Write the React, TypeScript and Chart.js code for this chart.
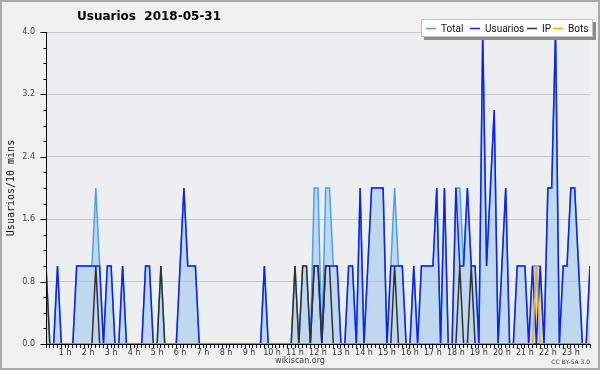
import React, { useEffect, useRef } from 'react';
import { Chart, registerables } from 'chart.js';

Chart.register(...registerables);

// 10-minute slots of the day (index 0 = 00:00 ... 143 = 23:50)
const slots: number[] = Array.from({ length: 144 }, (_, i) => i);

const hourLabels: string[] = [
  '1 h', '2 h', '3 h', '4 h', '5 h', '6 h', '7 h', '8 h', '9 h', '10 h', '11 h', '12 h',
  '13 h', '14 h', '15 h', '16 h', '17 h', '18 h', '19 h', '20 h', '21 h', '22 h', '23 h',
];

const total: number[] = [
  0, 1, 0, 0, 1, 0, 0, 0, 0, 1, 1, 1,
  1, 1, 2, 1, 0, 1, 1, 0, 0, 1, 0, 0,
  0, 0, 0, 1, 1, 0, 0, 1, 0, 0, 0, 0,
  1, 2, 1, 1, 1, 0, 0, 0, 0, 0, 0, 0,
  0, 0, 0, 0, 0, 0, 0, 0, 0, 0, 1, 0,
  0, 0, 0, 0, 0, 0, 1, 0, 1, 1, 0, 2,
  2, 0, 2, 2, 1, 1, 0, 0, 1, 1, 0, 2,
  0, 1, 2, 2, 2, 2, 0, 1, 2, 1, 1, 0,
  0, 1, 0, 1, 1, 1, 1, 2, 0, 2, 0, 0,
  2, 2, 1, 2, 1, 1, 0, 4, 1, 2, 3, 0,
  1, 2, 0, 0, 1, 1, 1, 0, 1, 1, 1, 0,
  2, 2, 4, 0, 1, 1, 2, 2, 1, 0, 0, 1,
];

const usuarios: number[] = [
  0, 0, 0, 0, 1, 0, 0, 0, 0, 1, 1, 1,
  1, 1, 1, 1, 0, 1, 1, 0, 0, 1, 0, 0,
  0, 0, 0, 1, 1, 0, 0, 0, 0, 0, 0, 0,
  1, 2, 1, 1, 1, 0, 0, 0, 0, 0, 0, 0,
  0, 0, 0, 0, 0, 0, 0, 0, 0, 0, 1, 0,
  0, 0, 0, 0, 0, 0, 0, 0, 0, 0, 0, 1,
  1, 0, 1, 1, 1, 1, 0, 0, 1, 1, 0, 2,
  0, 1, 2, 2, 2, 2, 0, 1, 1, 1, 1, 0,
  0, 1, 0, 1, 1, 1, 1, 2, 0, 2, 0, 0,
  2, 1, 1, 2, 1, 1, 0, 4, 1, 2, 3, 0,
  1, 2, 0, 0, 1, 1, 1, 0, 1, 0, 1, 0,
  2, 2, 4, 0, 1, 1, 2, 2, 1, 0, 0, 1,
];

const ip: number[] = [
  0, 1, 0, 0, 0, 0, 0, 0, 0, 0, 0, 0,
  0, 0, 1, 0, 0, 0, 0, 0, 0, 0, 0, 0,
  0, 0, 0, 0, 0, 0, 0, 1, 0, 0, 0, 0,
  0, 0, 0, 0, 0, 0, 0, 0, 0, 0, 0, 0,
  0, 0, 0, 0, 0, 0, 0, 0, 0, 0, 0, 0,
  0, 0, 0, 0, 0, 0, 1, 0, 1, 1, 0, 1,
  1, 0, 1, 1, 0, 0, 0, 0, 0, 0, 0, 0,
  0, 0, 0, 0, 0, 0, 0, 0, 1, 0, 0, 0,
  0, 0, 0, 0, 0, 0, 0, 0, 0, 0, 0, 0,
  0, 1, 0, 0, 1, 0, 0, 0, 0, 0, 0, 0,
  0, 0, 0, 0, 0, 0, 0, 0, 0, 0, 0, 0,
  0, 0, 0, 0, 0, 0, 0, 0, 0, 0, 0, 0,
];

const bots: number[] = [
  0, 0, 0, 0, 0, 0, 0, 0, 0, 0, 0, 0,
  0, 0, 0, 0, 0, 0, 0, 0, 0, 0, 0, 0,
  0, 0, 0, 0, 0, 0, 0, 0, 0, 0, 0, 0,
  0, 0, 0, 0, 0, 0, 0, 0, 0, 0, 0, 0,
  0, 0, 0, 0, 0, 0, 0, 0, 0, 0, 0, 0,
  0, 0, 0, 0, 0, 0, 0, 0, 0, 0, 0, 0,
  0, 0, 0, 0, 0, 0, 0, 0, 0, 0, 0, 0,
  0, 0, 0, 0, 0, 0, 0, 0, 0, 0, 0, 0,
  0, 0, 0, 0, 0, 0, 0, 0, 0, 0, 0, 0,
  0, 0, 0, 0, 0, 0, 0, 0, 0, 0, 0, 0,
  0, 0, 0, 0, 0, 0, 0, 0, 0, 1, 0, 0,
  0, 0, 0, 0, 0, 0, 0, 0, 0, 0, 0, 0,
];

const seriesNames = ['Total', 'Usuarios', 'IP', 'Bots'];
const seriesColors = ['#4AA0F0', '#1020F0', '#303030', '#FFA500'];
const titleText = 'Usuarios  2018-05-31';
const yTitle = 'Usuarios/10 mins';

const isMajor = (v: number) => Math.abs(v / 0.8 - Math.round(v / 0.8)) < 1e-6;

const decorPlugin = {
  id: 'decor',
  beforeDraw(chart: any) {
    const { ctx, chartArea: a, width, height } = chart;
    ctx.save();
    ctx.fillStyle = '#F0F0F0';
    ctx.fillRect(0, 0, width, height);
    ctx.fillStyle = '#EDEEF0';
    ctx.fillRect(a.left, a.top, a.right - a.left, a.bottom - a.top);
    ctx.restore();
  },
  afterDatasetsDraw(chart: any) {
    const { ctx, chartArea: a } = chart;
    const y = chart.scales.y;
    ctx.save();
    ctx.strokeStyle = '#000';
    ctx.lineWidth = 1;
    ctx.beginPath();
    ctx.moveTo(a.left, Math.round(a.bottom) + 0.5);
    ctx.lineTo(a.right, Math.round(a.bottom) + 0.5);
    ctx.moveTo(Math.round(a.left) + 0.5, a.top);
    ctx.lineTo(Math.round(a.left) + 0.5, a.bottom + 1);
    // y tick marks
    y.ticks.forEach((t: any) => {
      const py = Math.round(y.getPixelForValue(t.value)) + 0.5;
      const len = isMajor(t.value) ? 6 : 3;
      ctx.moveTo(Math.round(a.left) + 0.5 - len, py);
      ctx.lineTo(Math.round(a.left) + 0.5, py);
    });
    ctx.stroke();
    ctx.restore();
  },
  afterDraw(chart: any) {
    const { ctx, chartArea: a, width, height } = chart;
    ctx.save();
    // outer frame
    ctx.strokeStyle = '#A8A8A8';
    ctx.lineWidth = 2;
    ctx.strokeRect(1, 1, width - 2, height - 2);

    // title
    ctx.fillStyle = '#000';
    ctx.font = 'bold 12px "DejaVu Sans"';
    ctx.textBaseline = 'middle';
    ctx.textAlign = 'left';
    ctx.fillText(titleText, 77, 17);

    // y axis title
    ctx.save();
    ctx.translate(11, (a.top + a.bottom) / 2);
    ctx.rotate(-Math.PI / 2);
    ctx.font = '10px "DejaVu Sans Mono"';
    ctx.textAlign = 'center';
    ctx.fillStyle = '#111';
    ctx.fillText(yTitle, 0, 0);
    ctx.restore();

    // legend box
    const lx = 421, ly = 19, lw = 172, lh = 18;
    ctx.fillStyle = '#8C8C8C';
    ctx.fillRect(lx + 3, ly + 3, lw, lh);
    ctx.fillStyle = '#FFFFFF';
    ctx.fillRect(lx, ly, lw, lh);
    ctx.strokeStyle = '#C0C0C0';
    ctx.lineWidth = 1;
    ctx.strokeRect(lx + 0.5, ly + 0.5, lw - 1, lh - 1);
    const itemX = [426, 470, 527, 553];
    ctx.font = '10px Roboto';
    ctx.textAlign = 'left';
    ctx.textBaseline = 'middle';
    seriesNames.forEach((n, k) => {
      ctx.strokeStyle = seriesColors[k];
      ctx.lineWidth = 1.5;
      ctx.beginPath();
      ctx.moveTo(itemX[k], ly + 9.5);
      ctx.lineTo(itemX[k] + 10, ly + 9.5);
      ctx.stroke();
      ctx.fillStyle = '#111';
      ctx.fillText(n, itemX[k] + 15, ly + 10);
    });

    // footers
    ctx.fillStyle = '#444';
    ctx.font = '8px "DejaVu Sans"';
    ctx.textAlign = 'center';
    ctx.fillText('wikiscan.org', 300, 361);
    ctx.font = '6px "DejaVu Sans"';
    ctx.textAlign = 'right';
    ctx.fillText('CC BY-SA 3.0', 590, 362);
    ctx.restore();
  },
};

export default function App() {
  const ref = useRef<HTMLCanvasElement | null>(null);
  useEffect(() => {
    if (!ref.current) return;
    const mk = (vals: number[]) => slots.map((s, k) => ({ x: s, y: vals[k] }));
    const chart = new Chart(ref.current, {
      type: 'line',
      data: {
        datasets: [
          {
            label: seriesNames[0], data: mk(total), borderColor: seriesColors[0], borderWidth: 1.5,
            backgroundColor: 'rgba(150,195,240,0.52)', fill: 'origin', order: 4,
          },
          { label: seriesNames[1], data: mk(usuarios), borderColor: seriesColors[1], borderWidth: 1.5, fill: false, order: 3 },
          { label: seriesNames[2], data: mk(ip), borderColor: seriesColors[2], borderWidth: 1.5, fill: false, order: 2 },
          { label: seriesNames[3], data: mk(bots), borderColor: seriesColors[3], borderWidth: 1.5, fill: false, order: 1 },
        ],
      },
      options: {
        animation: false,
        responsive: false,
        devicePixelRatio: 1,
        layout: { padding: { top: 32, right: 10, left: 0, bottom: 0 } },
        elements: { point: { radius: 0 }, line: { tension: 0 } },
        plugins: { legend: { display: false }, title: { display: false }, tooltip: { enabled: false } },
        scales: {
          x: {
            type: 'linear',
            min: 1,
            max: 143,
            afterFit: (s: any) => { s.height = 26; },
            afterBuildTicks: (s: any) => {
              s.ticks = slots.filter((v) => v >= 1).map((v) => ({ value: v }));
            },
            ticks: {
              autoSkip: false,
              maxRotation: 0,
              minRotation: 0,
              padding: 0,
              color: '#333',
              font: { family: 'DejaVu Sans', size: 8 },
              callback: (v: any) => (v % 6 === 0 ? hourLabels[v / 6 - 1] : ''),
            },
            grid: { drawOnChartArea: false, drawTicks: true, tickLength: 4, tickColor: '#000' },
            border: { display: true, color: '#000' },
          },
          y: {
            min: 0,
            max: 4,
            afterFit: (s: any) => { s.width = 46; },
            ticks: {
              stepSize: 0.2,
              autoSkip: false,
              padding: 11,
              color: '#444',
              font: { family: 'DejaVu Sans', size: 8 },
              callback: (v: any) => (isMajor(v) ? Number(v).toFixed(1) : ''),
            },
            grid: {
              drawTicks: false,
              color: (c: any) => (c.tick && isMajor(c.tick.value) ? '#C8C8C8' : 'rgba(0,0,0,0)'),
            },
            border: { display: true, color: '#000' },
          },
        },
      },
      plugins: [decorPlugin],
    } as any);
    return () => chart.destroy();
  }, []);
  return (
    <div style={{ position: 'absolute', left: 0, top: 0, width: 600, height: 370 }}>
      <canvas ref={ref} width={600} height={370} style={{ display: 'block', width: 600, height: 370 }} />
    </div>
  );
}
